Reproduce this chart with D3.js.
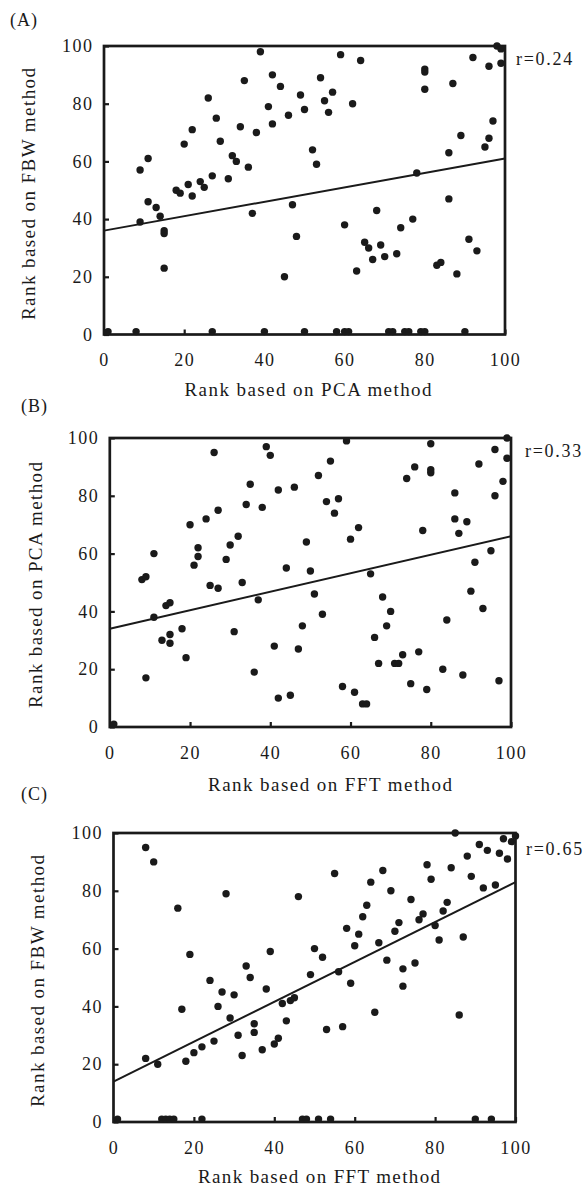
<!DOCTYPE html>
<html>
<head>
<meta charset="utf-8">
<script src="https://cdn.jsdelivr.net/npm/d3@7"></script>
<style>
  html, body { margin: 0; padding: 0; background: #fff; }
  svg { display: block; }
  text { font-family: "Liberation Serif", "Times New Roman", serif; fill: #1a1a1a; }
</style>
</head>
<body>
<svg id="chart" width="587" height="1186"></svg>
<script>
// ---------- DATA ----------
const tickValues = [0, 20, 40, 60, 80, 100];

// Panel A: PCA rank (x) vs FBW rank (y)
const xA = [1,8,27,40,9,11,9,11,13,14,15,15,15,18,19,20,21,22,22,24,25,26,27,28,29,31,32,33,34,35,36,37,38,39,41,42,42,44,45,46,47,48,49,50,50,52,53,54,55,56,57,58,59,60,60,61,62,63,64,65,66,67,68,69,70,71,72,73,74,75,76,77,78,79,80,80,80,80,83,84,86,86,87,88,89,90,91,92,93,95,96,96,97,98,99,99];
const yA = [1,1,1,1,57,61,39,46,44,41,36,35,23,50,49,66,52,71,48,53,51,82,55,75,67,54,62,60,72,88,58,42,70,98,79,90,73,86,20,76,45,34,83,1,78,64,59,89,81,77,84,1,97,38,1,1,80,22,95,32,30,26,43,31,27,1,1,28,37,1,1,40,56,1,1,92,91,85,24,25,63,47,87,21,69,1,33,96,29,65,68,93,74,100,99,94];
const fitA = [36, 61];   // fitted y at x=0 and x=100
const rA = "r=0.24";

// Panel B: FFT rank (x) vs PCA rank (y)
const xB = [1,8,9,9,11,11,13,14,15,15,15,18,19,20,21,22,22,24,25,26,27,27,29,30,31,32,33,34,35,36,37,38,39,40,41,42,42,44,45,46,47,48,49,50,51,52,53,54,55,56,57,58,59,60,61,62,63,64,65,66,67,68,69,70,71,72,73,74,75,76,77,78,79,80,80,80,83,84,86,86,87,88,89,90,91,92,93,95,96,96,97,98,99,99];
const yB = [1,51,52,17,60,38,30,42,43,32,29,34,24,70,56,62,59,72,49,95,75,48,58,63,33,66,50,77,84,19,44,76,97,94,28,82,10,55,11,83,27,35,64,54,46,87,39,78,92,74,79,14,99,65,12,69,8,8,53,31,22,45,35,40,22,22,25,86,15,90,26,68,13,98,89,88,20,37,81,72,67,18,71,47,57,91,41,61,96,80,16,85,100,93];
const fitB = [34, 66];
const rB = "r=0.33";

// Panel C: FFT rank (x) vs FBW rank (y)
const xC = [1,8,10,8,11,12,13,14,15,16,17,18,19,20,22,22,24,25,26,27,28,29,30,31,32,33,34,35,35,37,38,39,40,41,42,43,44,45,46,47,48,49,50,51,52,53,54,55,56,57,58,59,60,61,62,63,64,65,66,67,68,69,70,71,72,72,74,75,76,77,78,79,80,81,82,83,84,85,86,87,88,89,90,91,92,93,94,95,96,97,98,99,100];
const yC = [1,95,90,22,20,1,1,1,1,74,39,21,58,24,1,26,49,28,40,45,79,36,44,30,23,54,50,34,31,25,46,59,27,29,41,35,42,43,78,1,1,51,60,1,57,32,1,86,52,33,67,48,61,65,71,75,83,38,62,87,56,80,66,69,53,47,77,55,70,72,89,84,68,63,73,76,88,100,37,64,92,85,1,96,81,94,1,82,93,98,91,97,99];
const fitC = [14, 83];
const rC = "r=0.65";

const panelLabels = ["(A)", "(B)", "(C)"];
const xTitles = ["Rank based on PCA method", "Rank based on FFT method", "Rank based on FFT method"];
const yTitles = ["Rank based on FBW method", "Rank based on PCA method", "Rank based on FBW method"];

// ---------- LAYOUT ----------
const layouts = [
  { x0: 104,   x1: 505,   yTop: 46,  yBot: 334.5, lab: [10, 26],  xt: [308, 396, 247],  yt: [35, 194, 252],   rPos: [516, 65] },
  { x0: 109.8, x1: 511,   yTop: 438, yBot: 727,   lab: [21, 412], xt: [330, 791, 244],  yt: [41.5, 585, 246], rPos: [525, 456.5] },
  { x0: 113.5, x1: 515.5, yTop: 833, yBot: 1122,  lab: [21, 800], xt: [319, 1183, 242], yt: [43.5, 981, 252], rPos: [526, 855] }
];

const datasets = [
  { xs: xA, ys: yA, fit: fitA, r: rA },
  { xs: xB, ys: yB, fit: fitB, r: rB },
  { xs: xC, ys: yC, fit: fitC, r: rC }
];

const svg = d3.select("#chart");
svg.append("rect").attr("width", 587).attr("height", 1186).attr("fill", "#fff");

const ink = "#1a1a1a";

datasets.forEach((d, i) => {
  const L = layouts[i];
  const x = d3.scaleLinear().domain([0, 100]).range([L.x0, L.x1]);
  const y = d3.scaleLinear().domain([0, 100]).range([L.yBot, L.yTop]);
  const g = svg.append("g");

  // axes (inward ticks)
  const xAxis = d3.axisBottom(x).tickValues(tickValues).tickSizeInner(-5).tickSizeOuter(0).tickPadding(19);
  const yAxis = d3.axisLeft(y).tickValues(tickValues).tickSizeInner(-5).tickSizeOuter(0).tickPadding(10.5);

  const gx = g.append("g").attr("transform", `translate(0,${L.yBot})`).call(xAxis);
  const gy = g.append("g").attr("transform", `translate(${L.x0},0)`).call(yAxis);
  [gx, gy].forEach(a => {
    a.select(".domain").remove();
    a.selectAll(".tick line").attr("stroke", ink).attr("stroke-width", 2.2);
    a.selectAll(".tick text").attr("font-size", 18).attr("fill", ink)
      .style("font-family", '"Liberation Serif", serif').style("letter-spacing", "1.5px");
  });

  // frame
  g.append("rect")
    .attr("x", L.x0).attr("y", L.yTop)
    .attr("width", L.x1 - L.x0).attr("height", L.yBot - L.yTop)
    .attr("fill", "none").attr("stroke", ink).attr("stroke-width", 2.7);

  // fit line
  g.append("line")
    .attr("x1", x(0)).attr("y1", y(d.fit[0]))
    .attr("x2", x(100)).attr("y2", y(d.fit[1]))
    .attr("stroke", ink).attr("stroke-width", 2);

  // points
  const pts = d.xs.map((v, k) => [v, d.ys[k]]);
  g.selectAll("circle.pt").data(pts).join("circle")
    .attr("class", "pt")
    .attr("cx", p => x(p[0])).attr("cy", p => y(p[1]))
    .attr("r", 3.7).attr("fill", ink);

  // panel label
  g.append("text").attr("x", L.lab[0]).attr("y", L.lab[1])
    .attr("font-size", 18).style("letter-spacing", "1px").text(panelLabels[i]);

  // r label
  g.append("text").attr("x", L.rPos[0]).attr("y", L.rPos[1])
    .attr("font-size", 18).style("letter-spacing", "1.7px").text(d.r);

  // x title
  g.append("text").attr("x", L.xt[0]).attr("y", L.xt[1])
    .attr("text-anchor", "middle").attr("font-size", 19)
    .attr("textLength", L.xt[2]).attr("lengthAdjust", "spacing")
    .text(xTitles[i]);

  // y title
  g.append("text")
    .attr("transform", `translate(${L.yt[0]},${L.yt[1]}) rotate(-90)`)
    .attr("text-anchor", "middle").attr("font-size", 19)
    .attr("textLength", L.yt[2]).attr("lengthAdjust", "spacing")
    .text(yTitles[i]);
});
</script>
</body>
</html>
